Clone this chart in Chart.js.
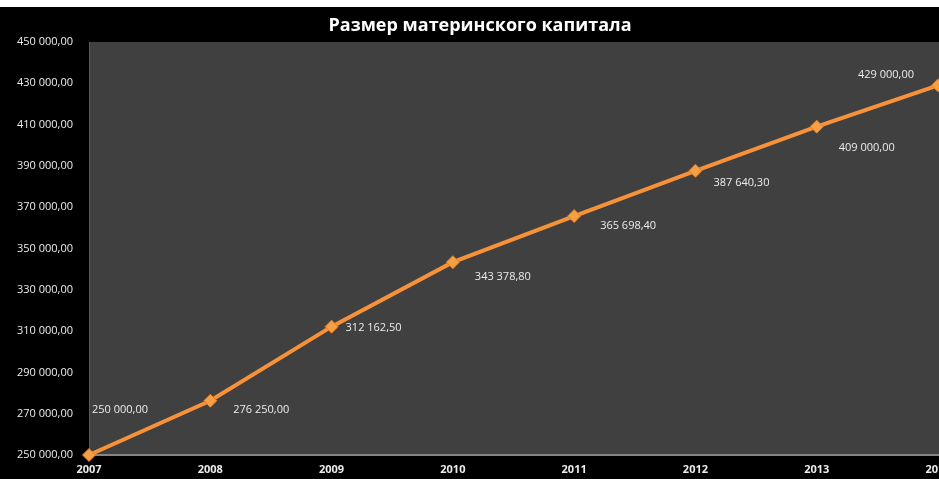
<!DOCTYPE html>
<html>
<head>
<meta charset="utf-8">
<script src="https://cdn.jsdelivr.net/npm/chart.js@4.4.1/dist/chart.umd.min.js"></script>
<style>
  html, body { margin: 0; padding: 0; background: #fff; overflow: hidden; }
  #wrap { position: absolute; left: 0; top: 7px; width: 1000px; height: 472px; background: #000; }
</style>
</head>
<body>
<div id="wrap"><canvas id="chart"></canvas></div>
<script>
const years = ['2007', '2008', '2009', '2010', '2011', '2012', '2013', '2014'];
const capital = [250000, 276250, 312162.5, 343378.8, 365698.4, 387640.3, 409000, 429000];
const yMin = 250000;
const yMax = 450000;
const yStep = 20000;
const chartTitle = 'Размер материнского капитала';

// label placement next to each point (dx, dy in px)
const labelShift = [[31, -45], [51, 9], [42, 1], [50, 15], [54, 10], [46, 12], [50, 21], [-52, -11]];

const fmt = v => {
  const [i, d] = v.toFixed(2).split('.');
  return i.replace(/\B(?=(\d{3})+(?!\d))/g, ' ') + ',' + d;
};

const plotBg = {
  id: 'plotBg',
  beforeDraw(chart) {
    const { ctx, chartArea: a } = chart;
    ctx.save();
    ctx.fillStyle = '#404040';
    ctx.fillRect(a.left, a.top, a.right - a.left + 20, a.bottom - a.top);
    // title, centred over the visible picture
    ctx.fillStyle = '#ffffff';
    ctx.font = 'bold 18px "Open Sans"';
    ctx.textAlign = 'center';
    ctx.textBaseline = 'middle';
    ctx.fillText(chartTitle, 480, 19);
    ctx.restore();
  }
};

const pointLabels = {
  id: 'pointLabels',
  afterDatasetsDraw(chart) {
    const { ctx } = chart;
    const meta = chart.getDatasetMeta(0);
    ctx.save();
    ctx.font = '11px "Open Sans"';
    ctx.fillStyle = '#ececec';
    ctx.textAlign = 'center';
    ctx.textBaseline = 'middle';
    meta.data.forEach((pt, i) => {
      const [dx, dy] = labelShift[i];
      ctx.fillText(fmt(capital[i]), pt.x + dx, pt.y + dy);
    });
    ctx.restore();
  }
};

new Chart(document.getElementById('chart'), {
  type: 'line',
  data: {
    labels: years,
    datasets: [{
      data: capital,
      borderColor: '#F7923A',
      borderWidth: 4,
      tension: 0,
      pointStyle: 'rectRot',
      pointRadius: 6.5,
      pointBackgroundColor: '#F6A045',
      pointBorderColor: '#E27C22',
      pointBorderWidth: 1,
      clip: 8
    }]
  },
  options: {
    responsive: true,
    maintainAspectRatio: false,
    animation: false,
    layout: { padding: { left: 0, right: 62, top: 35, bottom: 0 } },
    plugins: {
      legend: { display: false },
      tooltip: { enabled: false },
      title: { display: false }
    },
    scales: {
      x: {
        grid: { display: false, drawTicks: false },
        border: { color: '#858585', width: 2 },
        ticks: {
          color: '#ececec',
          padding: 8,
          maxRotation: 0,
          font: { family: 'Open Sans', size: 11, weight: 'bold' }
        },
        afterFit(s) { s.height = 24; }
      },
      y: {
        min: yMin,
        max: yMax,
        grid: { display: false, drawTicks: false },
        border: { color: '#5a5a5a', width: 1 },
        ticks: {
          stepSize: yStep,
          color: '#ececec',
          padding: 16,
          font: { family: 'Open Sans', size: 11 },
          callback: v => fmt(v)
        },
        afterFit(s) { s.width = 89; }
      }
    }
  },
  plugins: [plotBg, pointLabels]
});
</script>
</body>
</html>
